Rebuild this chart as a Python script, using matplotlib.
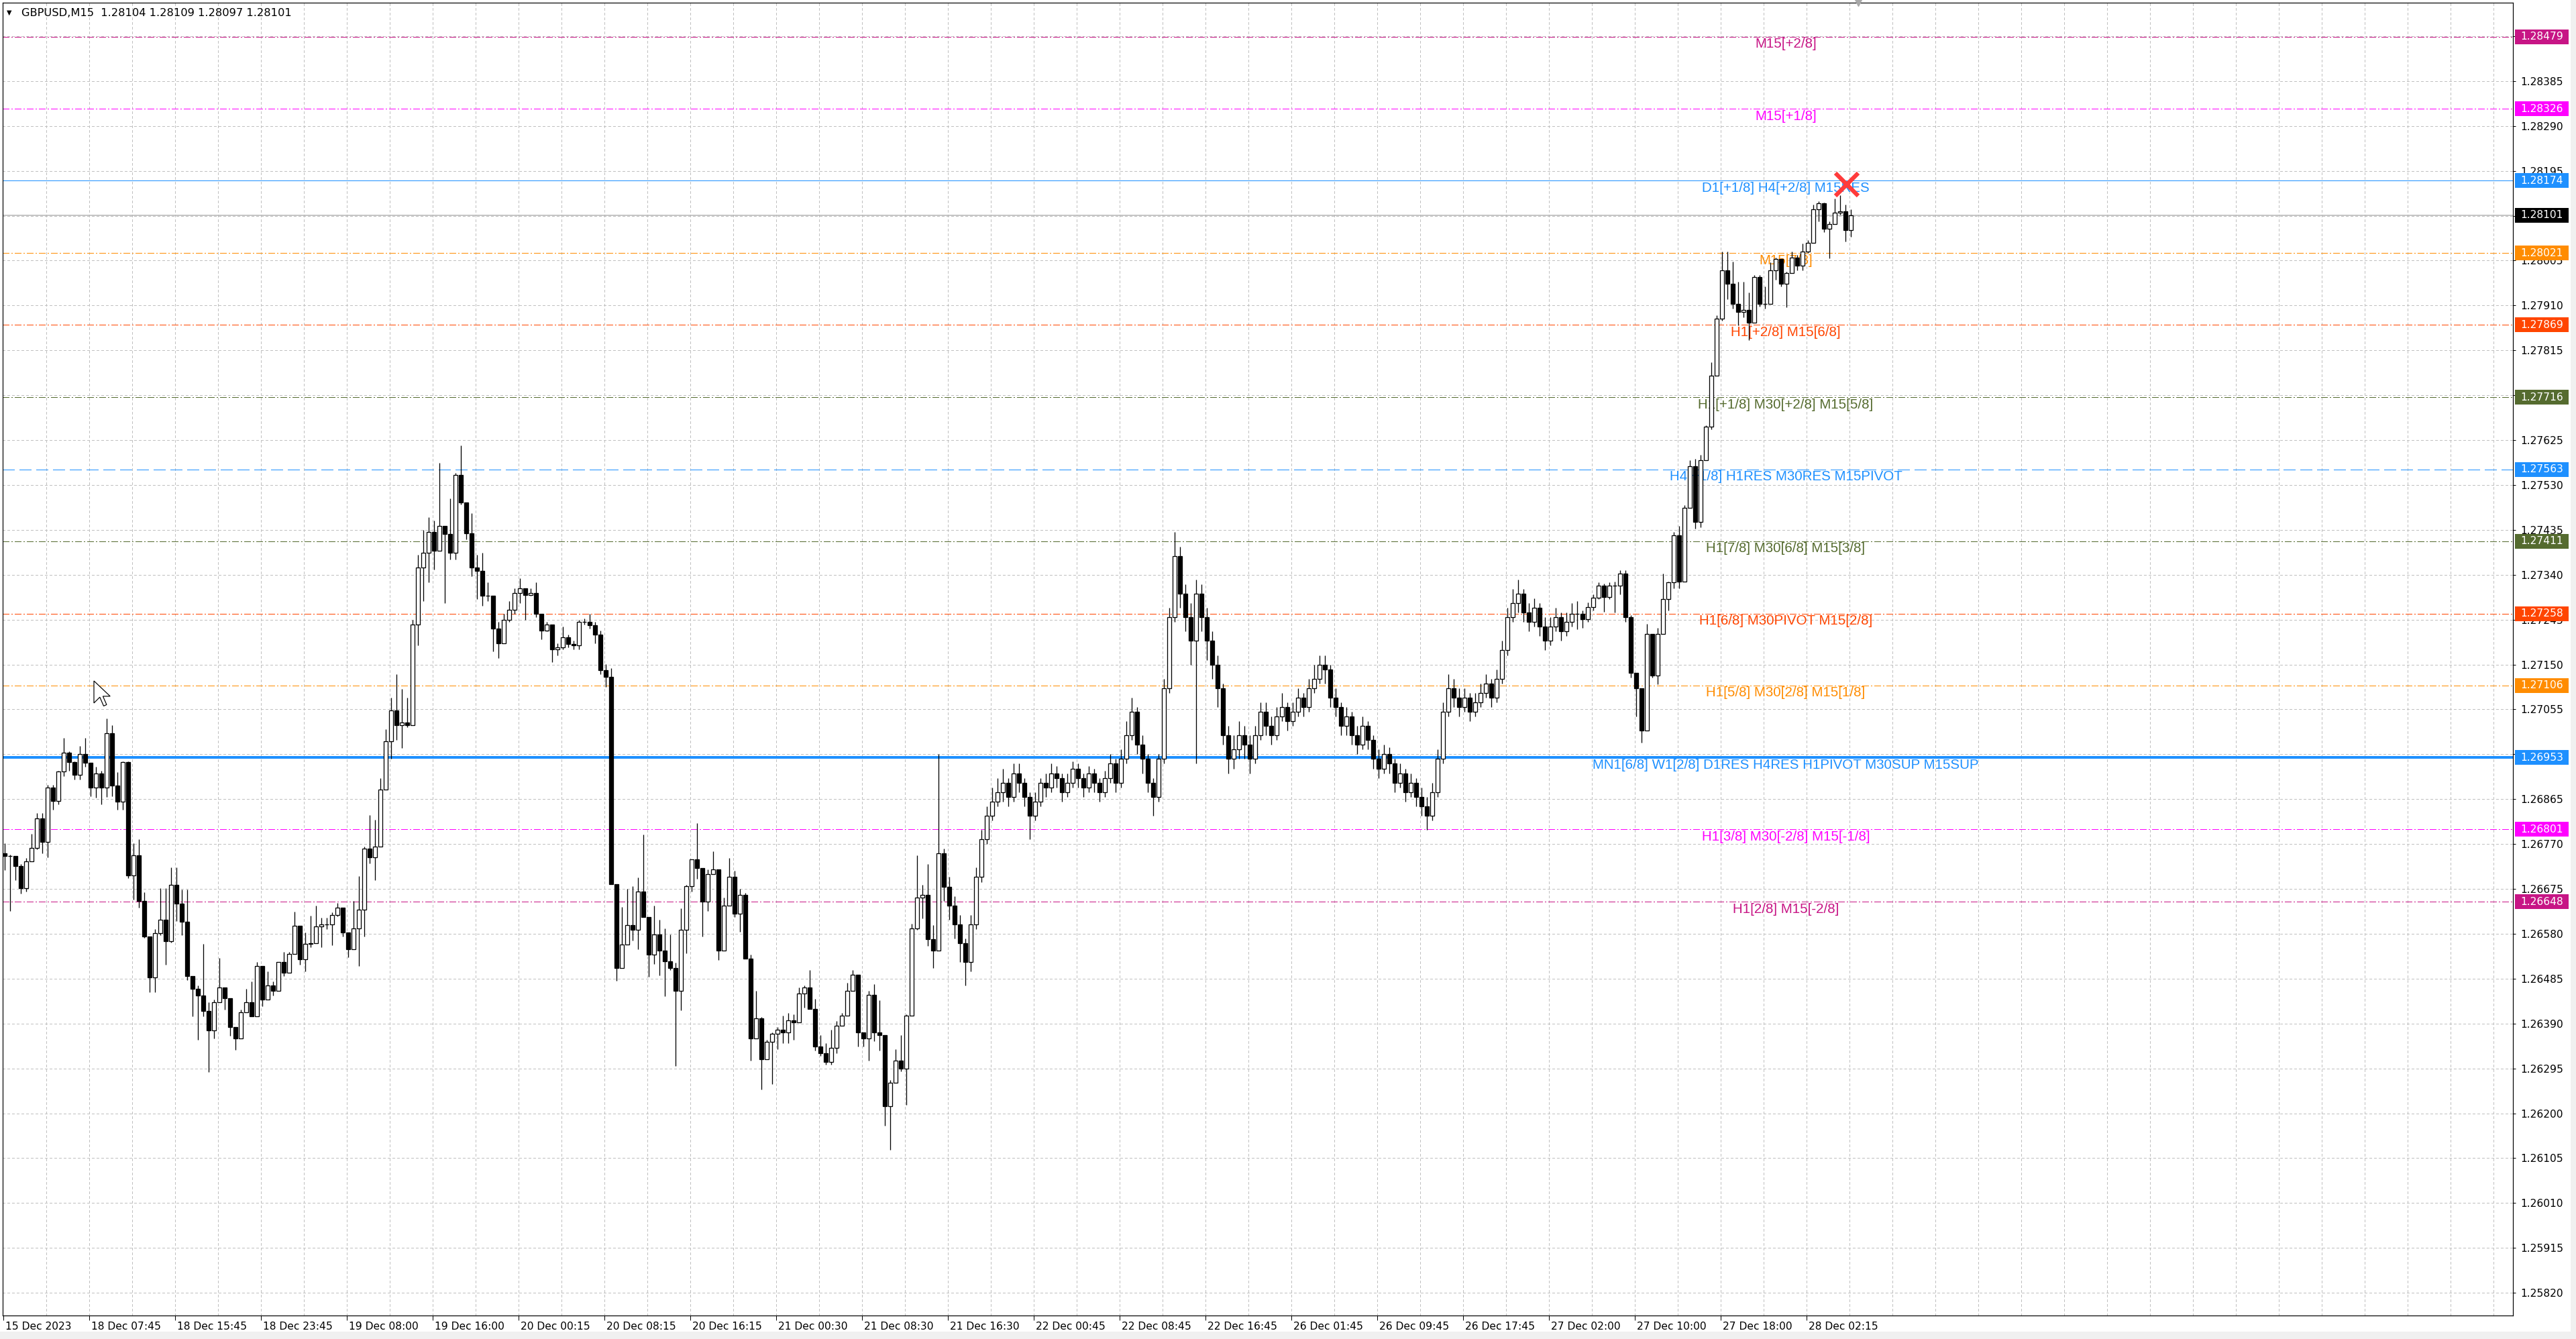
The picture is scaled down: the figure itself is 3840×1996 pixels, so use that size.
import numpy as np
import matplotlib
matplotlib.use('Agg')
import matplotlib.pyplot as plt
import matplotlib.transforms as mtransforms
from matplotlib.patches import Rectangle, Polygon

plt.rcParams['lines.scale_dashes'] = False

W, H, DPI = 3840, 1996, 100
PX = 72.0 / DPI  # one pixel in points

# GBPUSD M15, drawn as 30 minute candles (two M15 bars each)
# prices stored as 1e-5 steps above 1.26000
base = 1.26
first_open = 751
close = [745, 745, 724, 677, 733, 762, 824, 774, 890, 861,
         923, 963, 943, 916, 961, 942, 889, 920, 890, 1004,
         894, 860, 943, 703, 746, 650, 574, 488, 582, 610,
         565, 683, 644, 606, 491, 464, 450, 417, 376, 435,
         467, 444, 382, 359, 414, 435, 405, 512, 441, 470,
         460, 520, 497, 538, 597, 526, 559, 560, 596, 600,
         600, 620, 636, 583, 547, 591, 631, 760, 742, 765,
         885, 987, 1053, 1022, 1027, 1022, 1235, 1355, 1386, 1431,
         1391, 1444, 1426, 1386, 1551, 1493, 1428, 1355, 1348, 1295,
         1295, 1226, 1195, 1244, 1266, 1302, 1311, 1297, 1302, 1257,
         1222, 1235, 1182, 1186, 1207, 1193, 1191, 1240, 1240, 1233,
         1213, 1138, 1124, 685, 507, 557, 598, 589, 669, 616,
         536, 578, 545, 522, 507, 460, 589, 681, 737, 719,
         648, 707, 716, 545, 640, 700, 622, 663, 528, 359,
         401, 315, 351, 368, 377, 371, 397, 393, 454, 466,
         421, 342, 327, 309, 339, 386, 407, 460, 493, 371,
         359, 451, 371, 365, 215, 265, 312, 294, 407, 592,
         657, 663, 569, 545, 750, 680, 640, 600, 560, 520,
         600, 700, 780, 830, 860, 880, 900, 870, 920, 900,
         870, 830, 860, 900, 890, 920, 910, 880, 900, 930,
         910, 890, 920, 900, 880, 910, 940, 900, 950, 1000,
         1050, 980, 950, 900, 870, 950, 1100, 1250, 1380, 1300,
         1250, 1200, 1300, 1250, 1200, 1150, 1100, 1000, 950, 970,
         1000, 980, 950, 1000, 1050, 1020, 1000, 1040, 1060, 1030,
         1050, 1080, 1060, 1100, 1120, 1150, 1140, 1080, 1060, 1020,
         1040, 1000, 980, 1020, 990, 950, 930, 960, 940, 900,
         920, 880, 900, 870, 850, 830, 880, 950, 1050, 1100,
         1080, 1060, 1080, 1050, 1070, 1090, 1110, 1080, 1120, 1180,
         1250, 1280, 1300, 1260, 1240, 1270, 1230, 1200, 1230, 1250,
         1220, 1240, 1258, 1258, 1246, 1272, 1291, 1317, 1293, 1317,
         1317, 1343, 1250, 1132, 1100, 1010, 1215, 1127, 1215, 1288,
         1324, 1423, 1326, 1482, 1570, 1452, 1582, 1653, 1762, 1882,
         1984, 1956, 1913, 1897, 1901, 1873, 1970, 1913, 1913, 1984,
         2008, 1956, 1979, 2012, 1994, 2024, 2043, 2114, 2126, 2072,
         2083, 2107, 2110, 2069, 2101]
high = [771, 748, 733, 727, 741, 792, 836, 836, 895, 895,
        925, 995, 966, 945, 978, 994, 940, 933, 925, 1036,
        1022, 922, 945, 945, 771, 780, 668, 574, 590, 677,
        677, 721, 721, 674, 674, 491, 470, 559, 435, 441,
        529, 467, 444, 382, 420, 464, 479, 520, 512, 500,
        479, 520, 541, 541, 627, 597, 583, 618, 640, 614,
        614, 625, 645, 630, 583, 649, 702, 765, 831, 822,
        909, 1013, 1080, 1129, 1098, 1080, 1244, 1382, 1435, 1462,
        1455, 1577, 1444, 1502, 1555, 1614, 1493, 1471, 1382, 1386,
        1324, 1295, 1240, 1257, 1284, 1311, 1333, 1311, 1311, 1324,
        1257, 1240, 1235, 1195, 1231, 1213, 1200, 1244, 1248, 1257,
        1240, 1222, 1151, 1142, 685, 637, 675, 681, 699, 790,
        616, 640, 610, 592, 578, 519, 634, 684, 737, 814,
        719, 716, 755, 716, 657, 740, 713, 675, 666, 536,
        460, 404, 356, 371, 383, 407, 413, 410, 466, 470,
        504, 442, 365, 348, 377, 395, 413, 477, 504, 493,
        371, 460, 474, 439, 365, 270, 336, 365, 410, 601,
        746, 684, 728, 598, 960, 760, 700, 660, 620, 570,
        620, 720, 800, 850, 890, 910, 930, 910, 940, 940,
        910, 880, 880, 910, 920, 940, 935, 920, 920, 945,
        940, 920, 935, 930, 910, 925, 960, 950, 970, 1030,
        1080, 1060, 1000, 960, 910, 960, 1120, 1270, 1430, 1400,
        1320, 1280, 1330, 1320, 1270, 1220, 1170, 1110, 1020, 1000,
        1030, 1020, 1000, 1020, 1070, 1070, 1040, 1060, 1090, 1070,
        1070, 1100, 1090, 1120, 1150, 1170, 1170, 1150, 1100, 1070,
        1060, 1050, 1020, 1040, 1030, 1000, 970, 980, 975, 950,
        940, 930, 920, 910, 890, 870, 900, 970, 1070, 1130,
        1120, 1100, 1100, 1090, 1090, 1110, 1130, 1120, 1140, 1200,
        1270, 1310, 1330, 1310, 1280, 1290, 1280, 1250, 1250, 1270,
        1260, 1260, 1280, 1284, 1265, 1281, 1298, 1324, 1321, 1324,
        1326, 1350, 1350, 1255, 1132, 1090, 1236, 1215, 1227, 1343,
        1326, 1430, 1444, 1487, 1582, 1586, 1594, 1657, 1790, 1889,
        2024, 2024, 2003, 1960, 1960, 1937, 1975, 1975, 1951, 2001,
        2012, 2008, 1982, 2024, 2017, 2041, 2048, 2124, 2131, 2128,
        2088, 2136, 2143, 2124, 2114]
low = [715, 628, 694, 665, 669, 733, 759, 751, 742, 842,
       854, 913, 925, 907, 907, 933, 871, 868, 854, 870,
       871, 842, 842, 698, 652, 635, 572, 456, 456, 577,
       515, 561, 607, 577, 482, 405, 355, 405, 287, 358,
       435, 420, 364, 335, 359, 414, 405, 405, 426, 441,
       449, 460, 490, 497, 538, 515, 500, 552, 560, 552,
       590, 556, 617, 575, 530, 555, 512, 574, 729, 694,
       769, 885, 951, 991, 973, 1018, 1022, 1191, 1284, 1324,
       1351, 1391, 1280, 1373, 1373, 1489, 1415, 1337, 1289, 1275,
       1284, 1178, 1164, 1195, 1240, 1257, 1280, 1244, 1295, 1250,
       1204, 1220, 1155, 1169, 1182, 1186, 1182, 1182, 1235, 1226,
       1195, 1129, 1102, 685, 480, 507, 557, 566, 548, 616,
       489, 516, 492, 448, 504, 300, 418, 539, 669, 696,
       575, 628, 707, 525, 545, 640, 616, 584, 528, 312,
       359, 250, 315, 262, 336, 348, 348, 355, 393, 424,
       421, 333, 321, 303, 303, 327, 386, 407, 460, 342,
       342, 312, 353, 333, 174, 123, 265, 289, 218, 407,
       589, 613, 554, 507, 600, 650, 610, 570, 520, 470,
       500, 590, 690, 770, 820, 850, 860, 850, 860, 880,
       850, 780, 820, 850, 870, 880, 890, 860, 870, 890,
       890, 870, 880, 880, 860, 870, 900, 880, 890, 940,
       990, 960, 920, 880, 830, 860, 940, 1090, 1240, 1270,
       1220, 1150, 940, 1220, 1160, 1120, 1060, 980, 920, 930,
       950, 950, 920, 940, 990, 1000, 980, 990, 1030, 1010,
       1020, 1040, 1040, 1050, 1090, 1110, 1110, 1060, 1040, 1000,
       1000, 980, 960, 970, 970, 930, 910, 920, 920, 880,
       890, 860, 870, 850, 830, 800, 820, 870, 940, 1040,
       1060, 1040, 1050, 1030, 1040, 1060, 1080, 1060, 1070, 1110,
       1170, 1240, 1260, 1240, 1220, 1230, 1210, 1180, 1190, 1220,
       1200, 1210, 1230, 1224, 1227, 1241, 1265, 1288, 1262, 1288,
       1260, 1298, 1241, 1123, 1040, 985, 1010, 1123, 1108, 1215,
       1265, 1312, 1312, 1326, 1482, 1437, 1440, 1582, 1648, 1762,
       1878, 1923, 1904, 1868, 1885, 1837, 1873, 1908, 1904, 1913,
       1965, 1951, 1906, 1979, 1984, 1984, 2022, 2043, 2088, 2065,
       2010, 2083, 2102, 2046, 2055]

# Murrey math levels
level_price = [1.28479, 1.28326, 1.28174, 1.28021, 1.27869, 1.27716, 1.27563,
               1.27411, 1.27258, 1.27106, 1.26953, 1.26801, 1.26648]
level_text = ["M15[+2/8]", "M15[+1/8]", "D1[+1/8] H4[+2/8] M15RES", "M15[7/8]",
              "H1[+2/8] M15[6/8]", "H1[+1/8] M30[+2/8] M15[5/8]",
              "H4[+1/8] H1RES M30RES M15PIVOT", "H1[7/8] M30[6/8] M15[3/8]",
              "H1[6/8] M30PIVOT M15[2/8]", "H1[5/8] M30[2/8] M15[1/8]",
              "MN1[6/8] W1[2/8] D1RES H4RES H1PIVOT M30SUP M15SUP",
              "H1[3/8] M30[-2/8] M15[-1/8]", "H1[2/8] M15[-2/8]"]
level_color = ['#C71585', '#FF00FF', '#1E90FF', '#FF8C00', '#FF4500', '#556B2F',
               '#1E90FF', '#556B2F', '#FF4500', '#FF8C00', '#1E90FF', '#FF00FF',
               '#C71585']
level_kind = ['dd', 'dd', 'solid', 'dd', 'dd', 'dd', 'dash', 'dd', 'dd', 'dd',
              'thick', 'dd', 'dd']
current_price = 1.28101
mark_bar, mark_price = 687, 1.28166

x_labels = ["15 Dec 2023", "18 Dec 07:45", "18 Dec 15:45", "18 Dec 23:45",
            "19 Dec 08:00", "19 Dec 16:00", "20 Dec 00:15", "20 Dec 08:15",
            "20 Dec 16:15", "21 Dec 00:30", "21 Dec 08:30", "21 Dec 16:30",
            "22 Dec 00:45", "22 Dec 08:45", "22 Dec 16:45", "26 Dec 01:45",
            "26 Dec 09:45", "26 Dec 17:45", "27 Dec 02:00", "27 Dec 10:00",
            "27 Dec 18:00", "28 Dec 02:15"]
title = "GBPUSD,M15  1.28104 1.28109 1.28097 1.28101"

# ---------------------------------------------------------------
c = base + np.array(close) / 1e5
hi = base + np.array(high) / 1e5
lo = base + np.array(low) / 1e5
o = np.r_[base + first_open / 1e5, c[:-1]]
hi = np.maximum(hi, np.maximum(o, c))
lo = np.minimum(lo, np.minimum(o, c))
x = np.arange(len(c)) * 2 + 0.5   # position in M15 bars

fig = plt.figure(figsize=(W / DPI, H / DPI), dpi=DPI)
fig.patch.set_facecolor('white')
fig.patches.append(Rectangle((0, 0), 1, 11 / H, transform=fig.transFigure,
                             facecolor='#f0f0f0', edgecolor='none'))
fig.patches.append(Rectangle((3832 / W, 0), 8 / W, 1, transform=fig.transFigure,
                             facecolor='#f0f0f0', edgecolor='none'))

ax_l, ax_r, ax_t, ax_b = 4, 3746, 4, 1961
ax = fig.add_axes([ax_l / W, 1 - ax_b / H, (ax_r - ax_l) / W, (ax_b - ax_t) / H])
ax.set_xlim(-0.25, 935.25)
ax.set_ylim(1.25772, 1.28551)
for s in ax.spines.values():
    s.set_color('black')
    s.set_linewidth(1.2 * PX)

# grid
yt = np.round(1.25820 + 0.00095 * np.arange(29), 5)
for v in yt:
    ax.axhline(v, color='#c0c0c0', lw=PX, ls=(0, (3 * PX, 3 * PX)), zorder=0,
               antialiased=False)
for b in range(16, 936, 16):
    ax.axvline(b, color='#c0c0c0', lw=PX, ls=(0, (3 * PX, 3 * PX)), zorder=0,
               antialiased=False)

# level lines
styles = {'dd': (0, (10 * PX, 4 * PX, 2 * PX, 4 * PX)),
          'dash': (0, (18 * PX, 7 * PX)), 'solid': '-', 'thick': '-'}
for p, t, col, kind in zip(level_price, level_text, level_color, level_kind):
    ax.axhline(p, color=col, lw=(2.5 if kind == 'thick' else 1.0) * PX,
               ls=styles[kind], zorder=1, antialiased=False)
    tr = mtransforms.offset_copy(ax.transData, fig=fig, y=-11, units='dots')
    ax.text(664.25, p, t, color=col, fontsize=14.8, family='Liberation Sans',
            ha='center', va='center', transform=tr, zorder=2)
ax.axhline(current_price, color='#b4b4b4', lw=1.5 * PX, zorder=1)

# candles
ax.vlines(x, lo, hi, color='black', lw=1.3 * PX, zorder=3)
up = c >= o
bw = 1.35
ax.bar(x[up], (c - o)[up], bottom=o[up], width=bw, facecolor='white',
       edgecolor='black', linewidth=1.3 * PX, zorder=4)
ax.bar(x[~up], (o - c)[~up], bottom=c[~up], width=bw, facecolor='black',
       edgecolor='black', linewidth=1.3 * PX, zorder=4)

# red cross object
ax.plot(mark_bar, mark_price, marker='x', ms=25, mew=4.5, color='#ff3b3b', zorder=6)
# chart shift marker
ax.plot(691.25, 1.28551, marker='v', ms=7, color='#a8a8a8', clip_on=False, zorder=6)

# y axis on the right
ax.yaxis.tick_right()
ax.set_yticks(yt)
ax.set_yticklabels([f"{v:.5f}" for v in yt])
ax.tick_params(axis='y', length=4 * PX, width=PX, pad=7 * PX, labelsize=11.2,
               colors='black')
# x axis ticks
xt = np.arange(len(x_labels)) * 32
ax.set_xticks(xt)
ax.set_xticklabels([])
ax.tick_params(axis='x', length=7 * PX, width=PX, direction='out')
for b, lbl in zip(xt, x_labels):
    ax.annotate(lbl, xy=(b, 0), xycoords=('data', 'axes fraction'),
                xytext=(3 * PX, -16 * PX), textcoords='offset points',
                ha='left', va='center', fontsize=11.2)

# price boxes on the axis
box_tr = mtransforms.blended_transform_factory(fig.transFigure, ax.transData)
bh = 22 / 70.4 * 0.001
box_prices = level_price + [current_price]
box_colors = level_color + ['black']
for p, col in zip(box_prices, box_colors):
    ax.add_patch(Rectangle((3749 / W, p - bh / 2), 80 / W, bh, transform=box_tr,
                           facecolor=col, edgecolor='none', clip_on=False, zorder=7))
    ax.text(3757 / W, p, f"{p:.5f}", transform=box_tr, color='white',
            fontsize=11.2, ha='left', va='center', clip_on=False, zorder=8)

# mouse pointer left in the screenshot (figure pixels, y down)
cur = np.array([(0, 0), (0, 15), (4, 11), (6.6, 17), (8.6, 16.1), (6.1, 10.4),
                (11, 10.4)]) * 2.2
cur_px = np.c_[140 + cur[:, 0], H - (1015 + cur[:, 1])]
fig.patches.append(Polygon(cur_px, closed=True, transform=None,
                           facecolor='white', edgecolor='black', lw=1.2 * PX))

# title
fig.text(10 / W, 1 - 19 / H, '\u25BC', fontsize=7, va='center', ha='left')
fig.text(32 / W, 1 - 19 / H, title, fontsize=11.7, va='center', ha='left')

fig.savefig('out.png', dpi=DPI)
